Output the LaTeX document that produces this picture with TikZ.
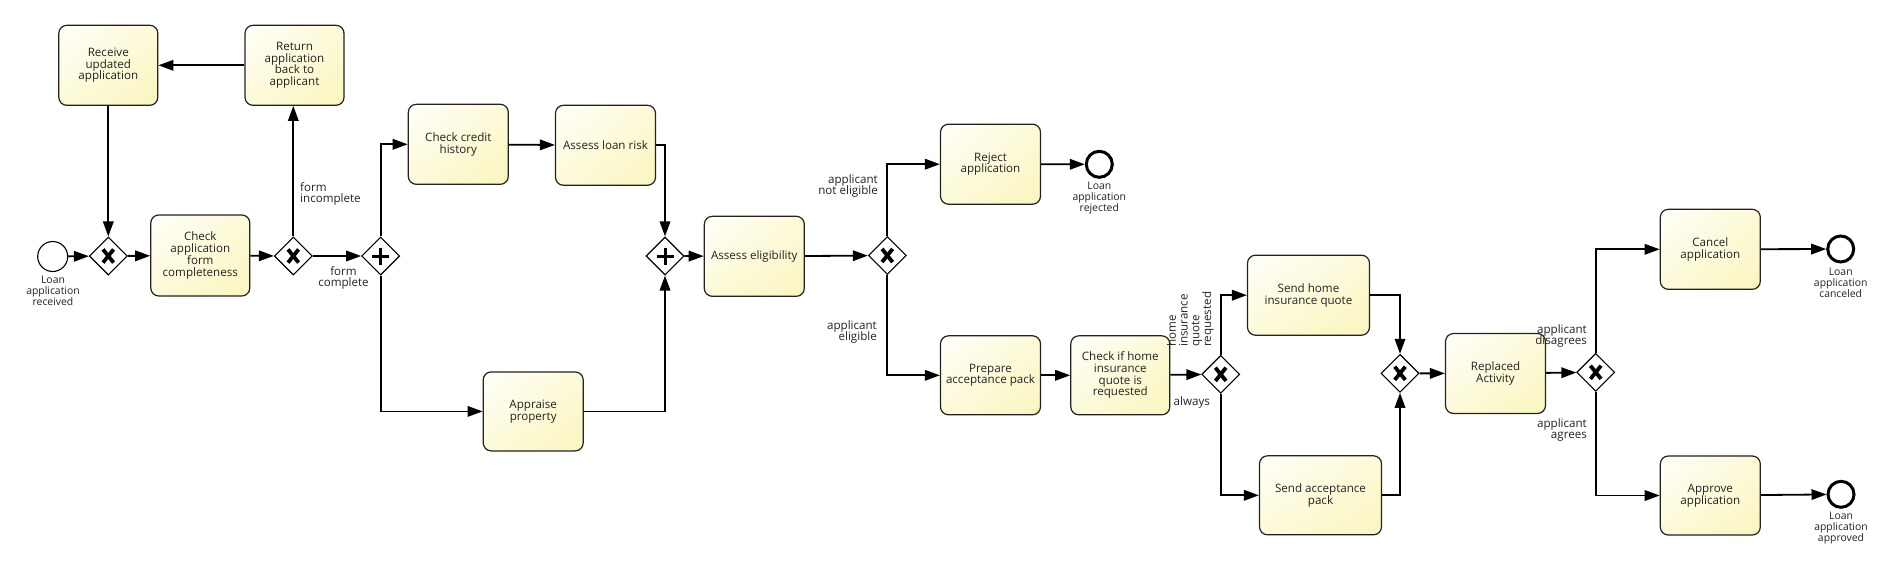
\documentclass[tikz,border=0pt]{standalone}
\usepackage{fontspec}
\setmainfont{Open Sans}
\usetikzlibrary{shapes.geometric,arrows.meta,shadings}
\definecolor{txt}{HTML}{222222}
\definecolor{bord}{HTML}{222222}
\definecolor{fa}{HTML}{FFFFFA}
\definecolor{fb}{HTML}{FDFAD8}
\definecolor{fc}{HTML}{FAF5BE}
\tikzset{
  task/.style={draw=bord, line width=1.2pt, rounded corners=8pt,
    upper left=fa, upper right=fb, lower left=fb, lower right=fc,
    minimum width=100pt, minimum height=80pt, inner sep=0pt, align=center,
    text=txt, font=\fontsize{11.6}{11.7}\selectfont},
  gw/.style={draw=black, fill=white, diamond, line width=1.1pt, minimum width=38pt,
    minimum height=38pt, inner sep=0pt},
  xgw/.style={gw, path picture={
    \draw[line width=3.8pt] ([shift={(-5.3,-6.6)}]path picture bounding box.center) -- ([shift={(5.3,6.6)}]path picture bounding box.center);
    \draw[line width=3.8pt] ([shift={(-5.3,6.6)}]path picture bounding box.center) -- ([shift={(5.3,-6.6)}]path picture bounding box.center);}},
  pgw/.style={gw, path picture={
    \draw[line width=3pt] ([shift={(-8.5,0)}]path picture bounding box.center) -- ([shift={(8.5,0)}]path picture bounding box.center);
    \draw[line width=3pt] ([shift={(0,-8.5)}]path picture bounding box.center) -- ([shift={(0,8.5)}]path picture bounding box.center);}},
  startev/.style={circle, draw=black, fill=white, line width=1.1pt, minimum size=30pt, inner sep=0pt},
  endev/.style={circle, draw=black, fill=white, line width=3pt, minimum size=26pt, inner sep=0pt},
  evlabel/.style={align=center, text=txt, inner sep=0pt, font=\fontsize{10.4}{11}\selectfont},
  elabel/.style={text=txt, inner sep=0pt, font=\fontsize{11.6}{11.7}\selectfont},
  flow/.style={line width=1.8pt, -{Triangle[length=15pt,width=10.5pt]}}
}
\begin{document}
\begin{tikzpicture}[x=1pt,y=-1pt]
\useasboundingbox (0,0) rectangle (1894,571);
% events & gateways & tasks
\node[startev] (start) at (52.7,256.5) {};
\node[evlabel] (startl) at (53,291) {Loan\\application\\received};
\node[xgw] (g1) at (108.3,256) {};
\node[task, minimum width=99pt, minimum height=81pt] (checkform) at (200.3,255.5) {Check\\application\\form\\completeness};
\node[task, minimum width=99pt] (receive) at (108.3,65.3) {Receive\\updated\\application};
\node[task, minimum width=99pt] (return) at (294.5,65.3) {Return\\application\\back to\\applicant};
\node[xgw] (g2) at (293.3,256) {};
\node[pgw] (p1) at (380.7,256) {};
\node[task] (credit) at (458.3,144.3) {Check credit\\history};
\node[task] (risk) at (605.5,145.3) {Assess loan risk};
\node[task, minimum height=79pt] (appraise) at (533.2,411.4) {Appraise\\property};
\node[pgw] (p2) at (665,256) {};
\node[task] (elig) at (754.3,256.3) {Assess eligibility};
\node[xgw] (g3) at (887.3,255.5) {};
\node[task] (reject) at (990.5,164.2) {Reject\\application};
\node[endev] (endrej) at (1099.3,164.3) {};
\node[evlabel] (endrejl) at (1099.3,198) {Loan\\application\\rejected};
\node[task, minimum height=79pt] (prepare) at (990.5,375.3) {Prepare\\acceptance pack};
\node[task, minimum width=99pt, minimum height=79pt] (checkhome) at (1120.3,375.3) {Check if home\\insurance\\quote is\\requested};
\node[xgw] (g4) at (1220.7,374.3) {};
\node[task, minimum width=122pt] (sendhome) at (1308.5,295.2) {Send home\\insurance quote};
\node[task, minimum width=122pt, minimum height=79pt] (sendacc) at (1320.5,495.3) {Send acceptance\\pack};
\node[xgw] (g5) at (1400,373.3) {};
\node[task] (replaced) at (1495.5,373.5) {Replaced\\Activity};
\node[xgw] (g6) at (1595.7,372.3) {};
\node[task] (cancel) at (1710.3,249.3) {Cancel\\application};
\node[endev] (endcan) at (1840.7,249) {};
\node[evlabel] (endcanl) at (1840.7,282.7) {Loan\\application\\canceled};
\node[task, minimum height=79pt] (approve) at (1710.3,495.5) {Approve\\application};
\node[endev] (endapp) at (1841,494.3) {};
\node[evlabel] (endappl) at (1841,528) {Loan\\application\\approved};
% flows
\draw[flow] (start) -- (g1);
\draw[flow] (g1) -- (checkform);
\draw[flow] (checkform) -- (g2);
\draw[flow] (g2) -- (p1);
\draw[flow] (g2.north) -- (g2.north |- return.south);
\draw[flow] (return) -- (receive);
\draw[flow] (receive) -- (g1);
\draw[flow] (p1.north) |- (credit.west);
\draw[flow] (p1.south) |- (appraise.west);
\draw[flow] (credit) -- (risk);
\draw[flow] (risk.east) -| (p2.north);
\draw[flow] (appraise.east) -| (p2.south);
\draw[flow] (p2) -- (elig);
\draw[flow] (elig) -- (g3);
\draw[flow] (g3.north) |- (reject.west);
\draw[flow] (g3.south) |- (prepare.west);
\draw[flow] (reject) -- (endrej);
\draw[flow] (prepare) -- (checkhome);
\draw[flow] (checkhome) -- (g4);
\draw[flow] (g4.north) |- (sendhome.west);
\draw[flow] (g4.south) |- (sendacc.west);
\draw[flow] (sendhome.east) -| (g5.north);
\draw[flow] (sendacc.east) -| (g5.south);
\draw[flow] (g5) -- (replaced);
\draw[flow] (replaced) -- (g6);
\draw[flow] (g6.north) |- (cancel.west);
\draw[flow] (g6.south) |- (approve.west);
\draw[flow] (cancel) -- (endcan);
\draw[flow] (approve) -- (endapp);
% flow labels
\node[elabel, align=left, anchor=west] (l1) at (300,194) {form\\incomplete};
\node[elabel, align=center] (l2) at (343.5,278) {form\\complete};
\node[elabel, align=right, anchor=east] (l3) at (878,186) {applicant\\not eligible};
\node[elabel, align=right, anchor=east] (l4) at (877,332) {applicant\\eligible};
\node[elabel, align=left, anchor=west, rotate=90] (l5) at (1190.5,347) {home\\insurance\\quote\\requested};
\node[elabel, anchor=west] (l6) at (1173.5,402.5) {always};
\node[elabel, align=right, anchor=east] (l7) at (1587,336) {applicant\\disagrees};
\node[elabel, align=right, anchor=east] (l8) at (1587,430) {applicant\\agrees};
\end{tikzpicture}
\end{document}
